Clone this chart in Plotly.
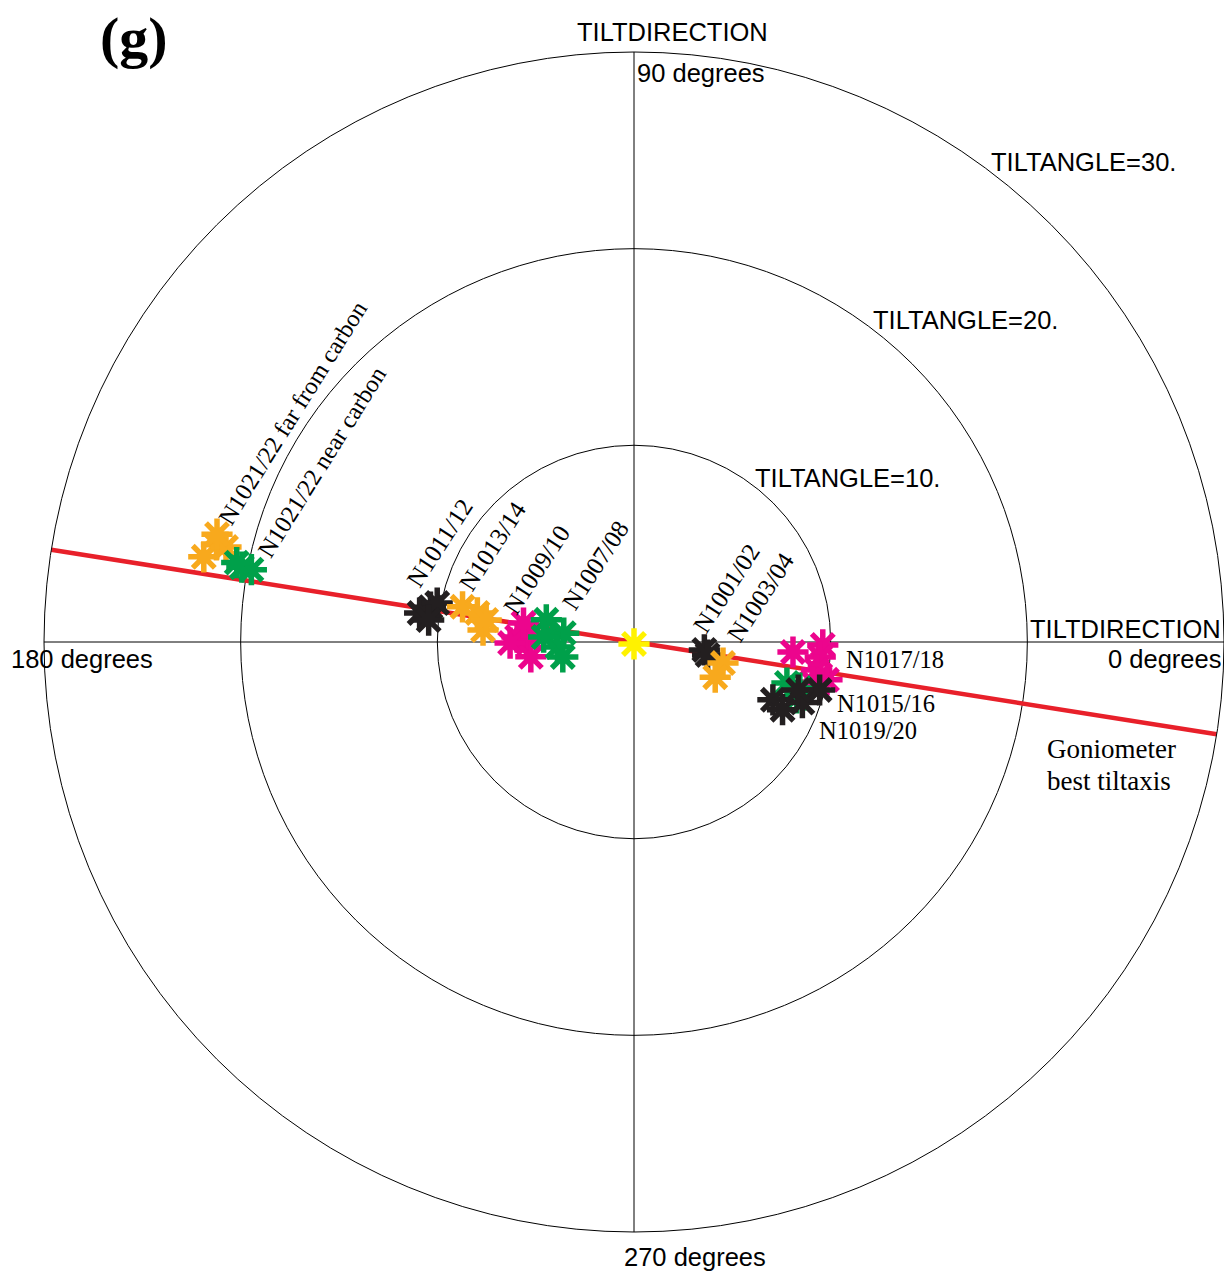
import plotly.graph_objects as go

W, H = 1224, 1274

# Tilt measurements: tilt direction (deg) and tilt angle (deg) per grid pair
far_carbon_dir = [166.9, 168.8, 166.9, 165.5]
far_carbon_ang = [21.8, 22.3, 21.3, 21.9]
near_carbon_dir = [169.2, 169.3, 168.7]
near_carbon_ang = [20.3, 19.8, 20.6]

n1011_dir = [170.3, 172.3, 168.8, 173.9]
n1011_ang = [10.5, 11.0, 10.2, 10.5]
n1013_dir = [168.4, 169.5, 175.5, 171.5]
n1013_ang = [8.9, 8.1, 7.7, 7.6]
n1009_dir = [177.6, 178.9, 188.2, 180.5, 170.3]
n1009_ang = [5.95, 5.4, 5.3, 6.3, 5.7]
n1007_dir = [165.8, 172.8, 183.7, 191.9, 176.9]
n1007_ang = [4.6, 3.6, 3.9, 3.7, 4.6]

n1001_dir = [353.6, 350.0]
n1001_ang = [3.6, 3.8]
n1003_dir = [346.7, 336.6]
n1003_ang = [4.65, 4.5]
n1017_dir = [356.4, 359.1, 355.4, 351.3, 348.9, 347.4]
n1017_ang = [8.1, 9.6, 9.5, 9.4, 10.0, 9.3]
n1015_dir = [345.0, 341.0, 344.5]
n1015_ang = [8.05, 8.75, 8.75]
n1019_dir = [337.4, 335.5, 340.2, 345.5, 343.7]
n1019_ang = [7.65, 8.3, 9.1, 9.75, 8.7]

origin_dir = [270.0]
origin_ang = [0.1]

# Best goniometer tilt axis through the origin
axis_dir = [171.0, 171.0, 351.0]
axis_ang = [30.0, 0.0, 30.0]

ORANGE = "#f8a91d"
GREEN = "#00a04a"
MAGENTA = "#ec058d"
BLACK = "#231f20"
YELLOW = "#fff200"
RED = "#e8202a"

fig = go.Figure()

fig.add_trace(go.Scatterpolar(
    r=axis_ang, theta=axis_dir, mode="lines",
    line=dict(color=RED, width=4.5), hoverinfo="skip", showlegend=False))

groups = [
    (far_carbon_dir, far_carbon_ang, ORANGE),
    (near_carbon_dir, near_carbon_ang, GREEN),
    (n1011_dir, n1011_ang, BLACK),
    (n1013_dir, n1013_ang, ORANGE),
    (n1009_dir, n1009_ang, MAGENTA),
    (n1007_dir, n1007_ang, GREEN),
    (n1001_dir, n1001_ang, BLACK),
    (n1003_dir, n1003_ang, ORANGE),
    (n1017_dir, n1017_ang, MAGENTA),
    (n1015_dir, n1015_ang, GREEN),
    (n1019_dir, n1019_ang, BLACK),
    (origin_dir, origin_ang, YELLOW),
]
for th, r, col in groups:
    fig.add_trace(go.Scatterpolar(
        r=r, theta=th, mode="markers",
        marker=dict(symbol="asterisk-open", size=26,
                    line=dict(color=col, width=5.5), color=col),
        showlegend=False))


def P(x, y):
    return x / W, 1 - y / H


SANS = "Liberation Sans"
SERIF = "Liberation Serif"
annotations = []


def label(text, x, y, font, size, xanchor="left", angle=0, bold=False):
    ax, ay = P(x, y)
    if bold:
        text = "<b>" + text + "</b>"
    annotations.append(dict(
        text=text, x=ax, y=ay, xref="paper", yref="paper",
        xanchor=xanchor, yanchor="middle", showarrow=False,
        textangle=angle, font=dict(family=font, size=size, color="black")))


# axis labels
label("TILTDIRECTION", 672, 32, SANS, 25.5, "center")
label("90 degrees", 635, 73, SANS, 25.5, "left")
label("TILTANGLE=30.", 989, 162, SANS, 25.5, "left")
label("TILTANGLE=20.", 871, 320, SANS, 25.5, "left")
label("TILTANGLE=10.", 753, 478, SANS, 25.5, "left")
label("TILTDIRECTION", 1223, 629, SANS, 25.5, "right")
label("0 degrees", 1223, 659, SANS, 25.5, "right")
label("180 degrees", 9, 659, SANS, 25.5, "left")
label("270 degrees", 622, 1257, SANS, 25.5, "left")

# sample labels
label("N1021/22 far from carbon", 293, 413, SERIF, 24.5, "center", -58)
label("N1021/22 near carbon", 321, 462, SERIF, 24.5, "center", -58)
label("N1011/12", 439, 543, SERIF, 25, "center", -57)
label("N1013/14", 492, 546, SERIF, 25, "center", -57)
label("N1009/10", 537, 570, SERIF, 25, "center", -57)
label("N1007/08", 595, 565, SERIF, 25, "center", -57)
label("N1001/02", 726, 588, SERIF, 25, "center", -57)
label("N1003/04", 760, 597, SERIF, 25, "center", -57)
label("N1017/18", 844, 660, SERIF, 24.5, "left")
label("N1015/16", 835, 703, SERIF, 24.5, "left")
label("N1019/20", 817, 730, SERIF, 24.5, "left")
label("Goniometer", 1045, 749, SERIF, 27, "left")
label("best tiltaxis", 1045, 781, SERIF, 27, "left")

label("(g)", 134, 37, SERIF, 58, "center", bold=True)

fig.update_layout(
    width=W, height=H,
    margin=dict(l=0, r=0, t=0, b=0),
    paper_bgcolor="white", plot_bgcolor="white",
    showlegend=False,
    annotations=annotations,
    polar=dict(
        domain=dict(x=[44 / W, 1224 / W], y=[42 / H, 1222 / H]),
        bgcolor="white",
        radialaxis=dict(range=[0, 30], tickvals=[10, 20, 30],
                        showticklabels=False, ticks="", showline=False,
                        gridcolor="black", gridwidth=1),
        angularaxis=dict(rotation=0, direction="counterclockwise",
                         tickvals=[0, 90, 180, 270], showticklabels=False,
                         ticks="", showline=True, linecolor="black",
                         linewidth=1, gridcolor="black", gridwidth=1),
    ),
)

fig.write_html("out.html")
